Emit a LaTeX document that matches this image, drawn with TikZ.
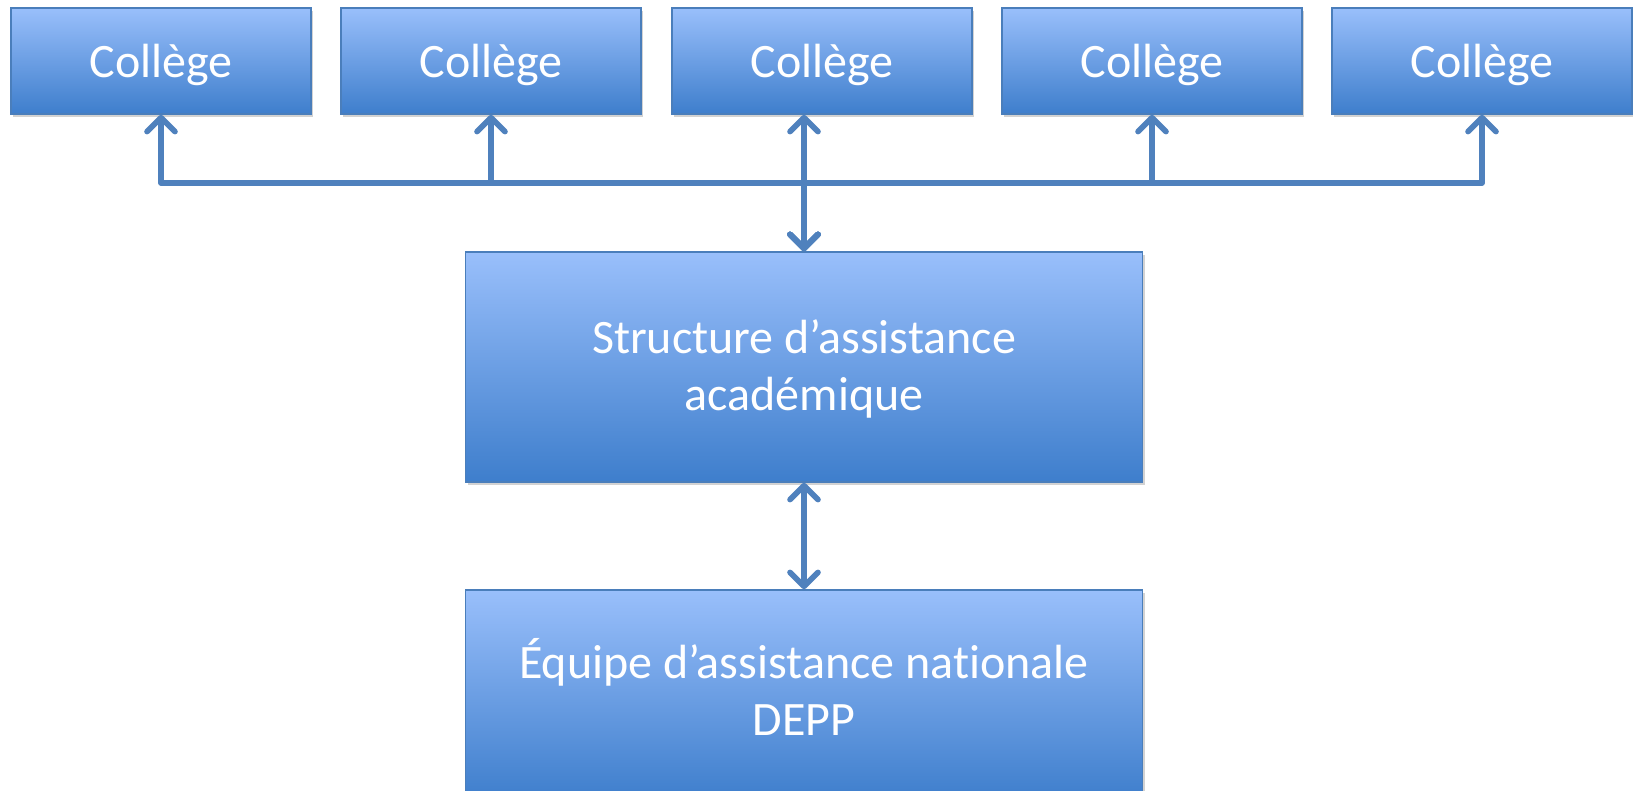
\documentclass[tikz,border=0pt]{standalone}
\usepackage{fontspec}
\setmainfont{Carlito}[Ligatures=NoCommon]
\usetikzlibrary{arrows.meta, positioning, calc, shadows}
\definecolor{boxtop}{RGB}{153,191,251}
\definecolor{boxbot}{RGB}{62,126,204}
\definecolor{boxline}{RGB}{74,126,187}
\definecolor{linkblue}{RGB}{79,129,189}

\begin{document}
\begin{tikzpicture}[
    x=0.5pt, y=-0.5pt,
    box/.style={rectangle, draw=boxline, line width=0.8pt,
      top color=boxtop, bottom color=boxbot, text=white,
      align=center, inner sep=0pt,
      font=\fontsize{24}{28.5}\selectfont,
      drop shadow={opacity=0.35, shadow xshift=1pt, shadow yshift=-1.5pt}},
    college/.style={box, minimum width=150pt, minimum height=53pt,
      text height=21pt, text depth=4pt},
    level/.style={box, minimum width=338.5pt, minimum height=115pt,
      text height=47.5pt, text depth=4.5pt},
    link/.style={draw=linkblue, line width=2.8pt, line cap=round, line join=round,
      {Straight Barb[length=7pt, width=14pt, round]}-{Straight Barb[length=7pt, width=14pt, round]}}
  ]
    \path[use as bounding box, clip] (0,0) rectangle (1633,791);
    \fill[white] (0,0) rectangle (1633,791);

    % colleges
    \foreach \i/\x in {1/161, 2/491, 3/822, 4/1152, 5/1482}
      \node[college] (c\i) at (\x,61) {Coll\`ege};

    \node[level] (acad) at (804,367) {Structure d'assistance\\acad\'emique};
    \node[level, minimum height=105pt, text height=44pt, text depth=4pt]
      (nat) at (804,695) {\'Equipe d'assistance nationale\\DEPP};

    \coordinate (bus) at (0,183);

    % links
    \foreach \i in {1,2,4,5}
      \draw[link] (acad.north) -- (acad.north |- bus) -| (c\i.south);
    \draw[link] (acad.north) -- (c3.south -| acad.north);
    \draw[link] (acad.south) -- (nat.north);
  \end{tikzpicture}
\end{document}
